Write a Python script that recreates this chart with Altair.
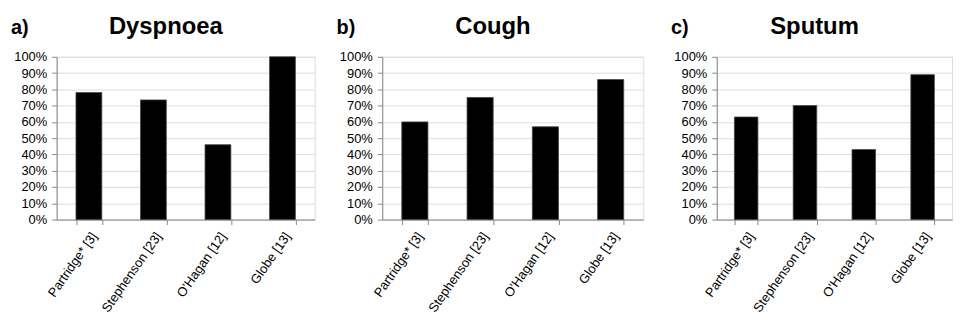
import altair as alt
import pandas as pd

studies = ["Partridge* [3]", "Stephenson [23]", "O'Hagan [12]", "Globe [13]"]
dyspnoea = [0.78, 0.735, 0.46, 1.00]
cough = [0.60, 0.75, 0.57, 0.86]
sputum = [0.63, 0.70, 0.43, 0.89]
panel_values = [dyspnoea, cough, sputum]
panel_titles = ["Dyspnoea", "Cough", "Sputum"]
panel_letters = ["a)", "b)", "c)"]
y_ticks = [0, 0.1, 0.2, 0.3, 0.4, 0.5, 0.6, 0.7, 0.8, 0.9, 1.0]
panel_widths = [260, 263, 237]
panel_axis_extent = [0, 0, 52]

FONT = "Liberation Sans"


def panel(values, title, letter, width, extent):
    df = pd.DataFrame({"study": studies, "value": values})
    bars = alt.Chart(df).mark_bar(color="black", stroke="#444444", strokeWidth=0.8).encode(
        x=alt.X(
            "study:N",
            sort=studies,
            title=None,
            scale=alt.Scale(paddingInner=0.6, paddingOuter=0.3),
            axis=alt.Axis(
                labelAngle=-55,
                tickBand="extent",
                labelFontSize=13,
                labelPadding=9,
                labelOffset=5,
                tickSize=5,
            ),
        ),
        y=alt.Y(
            "value:Q",
            title=None,
            scale=alt.Scale(domain=[0, 1]),
            axis=alt.Axis(format=".0%", values=y_ticks, labelFontSize=13, labelPadding=5,
                          tickSize=5, minExtent=extent),
        ),
    )
    lab = alt.Chart(pd.DataFrame({"letter": [letter]})).mark_text(
        fontSize=20, fontWeight="bold", align="left", baseline="alphabetic", font=FONT, color="black"
    ).encode(text="letter:N", x=alt.value(-46), y=alt.value(-23))
    return alt.layer(bars, lab).properties(
        width=width,
        height=164,
        title=alt.Title(title, fontSize=24, fontWeight="bold", font=FONT, color="black",
                        anchor="middle", offset=-21, dx=-20),
    )


chart = alt.hconcat(
    *[panel(v, t, l, w, e) for v, t, l, w, e in zip(panel_values, panel_titles, panel_letters, panel_widths, panel_axis_extent)],
    spacing=20,
).properties(padding={"left": 2, "top": 5, "right": 0, "bottom": 0}).configure_view(stroke=None).configure_axis(
    domainColor="#8c8c8c",
    tickColor="#8c8c8c",
    gridColor="#a0a0a0",
    labelColor="#222222",
    labelFont=FONT,
).configure_axisX(grid=False).configure(background="white")

chart.save("out.html", embed_options={"renderer": "svg", "actions": False})
